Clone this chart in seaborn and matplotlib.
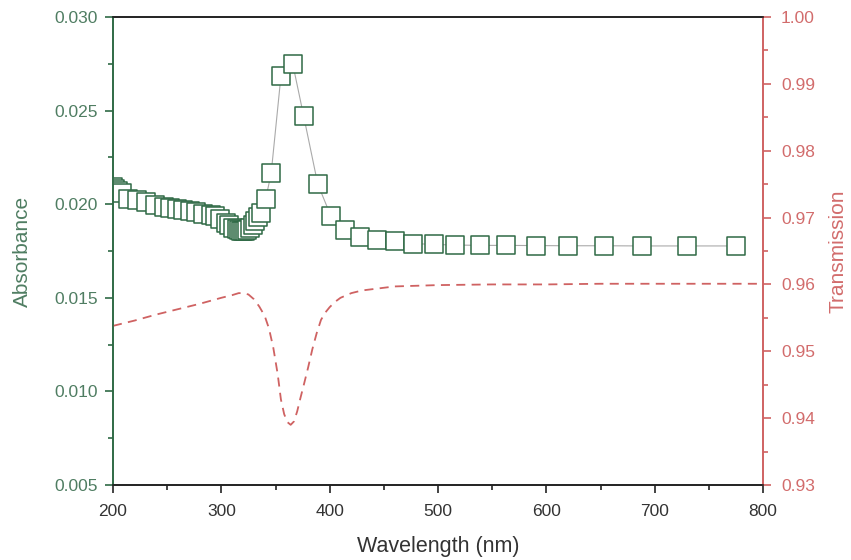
import matplotlib
matplotlib.use("Agg")
import matplotlib.pyplot as plt
from matplotlib.ticker import MultipleLocator, FormatStrFormatter
import seaborn as sns
import pandas as pd

# Absorbance spectrum (sampled points)
wl_abs = [200, 202, 205, 208, 214, 222, 230, 239, 247, 253, 259, 265, 271,
          277, 283, 290, 294, 299, 304, 307, 311, 314, 316, 318, 320, 322,
          324, 326.5, 329, 331.5, 333.5, 336.5, 341, 346, 355, 366, 376,
          389, 401, 414, 428, 444, 460, 477, 496, 516, 539, 563, 590, 620,
          653, 688, 730, 775]
absorbance = [0.0209, 0.0208, 0.0207, 0.0206, 0.0203, 0.0202, 0.0201,
              0.01995, 0.01986, 0.01981, 0.01973, 0.01968, 0.01963, 0.01956,
              0.0195, 0.01941, 0.01936, 0.0192, 0.0190, 0.0189, 0.01875,
              0.01865, 0.0186, 0.01856, 0.01855, 0.01856, 0.0186, 0.01872,
              0.0189, 0.0191, 0.01932, 0.01953, 0.0203, 0.02165, 0.02683,
              0.02747, 0.02471, 0.02108, 0.01938, 0.01862, 0.01826, 0.0181,
              0.01803, 0.0179, 0.01785, 0.01782, 0.0178, 0.0178, 0.01779,
              0.01778, 0.01778, 0.01777, 0.01777, 0.01777]

# Transmission spectrum
wl_trans = [200, 220, 240, 260, 280, 300, 310, 316, 320, 325, 330, 335, 340,
            344, 348, 352, 355, 358, 361, 364, 367, 370, 373, 376, 380, 384,
            388, 392, 396, 400, 405, 410, 420, 430, 445, 460, 480, 500, 550,
            600, 650, 700, 750, 800]
transmission = [0.9538, 0.9546, 0.9555, 0.9563, 0.9571, 0.9580, 0.9584,
                0.9587, 0.9587, 0.9585, 0.9578, 0.9567, 0.9553, 0.9534,
                0.9505, 0.9466, 0.9428, 0.9406, 0.9394, 0.9390, 0.9395,
                0.9410, 0.9430, 0.9449, 0.9475, 0.9503, 0.9527, 0.9547,
                0.9558, 0.9566, 0.9574, 0.9580, 0.9587, 0.9591, 0.9594,
                0.9597, 0.9598, 0.9599, 0.9600, 0.9600, 0.9601, 0.9601,
                0.9601, 0.9601]

x_ticks = [200, 300, 400, 500, 600, 700, 800]

GREEN = "#2f6a45"
GREEN_TXT = "#4f7d62"
RED = "#cf6262"
RED_TXT = "#d26c6c"
GRAY_TXT = "#333333"

sns.set_style("ticks")
plt.rcParams["font.family"] = ["Liberation Sans", "DejaVu Sans"]

df_abs = pd.DataFrame({"wl": wl_abs, "A": absorbance})
df_t = pd.DataFrame({"wl": wl_trans, "T": transmission})

fig = plt.figure(figsize=(8.51, 5.60), dpi=100)
ax = fig.add_axes([113 / 851, 1 - 485 / 560, 650 / 851, 468 / 560])
ax2 = ax.twinx()

# Absorbance: thin grey connector under white-filled square markers
sns.lineplot(data=df_abs, x="wl", y="A", ax=ax, sort=False, color="#aaaaaa",
             linewidth=0.8, zorder=2)
sns.scatterplot(data=df_abs, x="wl", y="A", ax=ax, marker="s", s=150,
                facecolor="white", edgecolor=GREEN, linewidth=1.1,
                zorder=3, clip_on=True)

# Transmission: dashed red curve on the right axis
sns.lineplot(data=df_t, x="wl", y="T", ax=ax2, color=RED, linewidth=1.3,
             dashes=False, linestyle=(0, (5, 3.5)), zorder=2)

ax.set_xlim(200, 800)
ax.set_ylim(0.005, 0.030)
ax2.set_ylim(0.93, 1.00)

ax.set_xticks(x_ticks)
ax.xaxis.set_minor_locator(MultipleLocator(50))
ax.yaxis.set_major_locator(MultipleLocator(0.005))
ax.yaxis.set_minor_locator(MultipleLocator(0.0025))
ax.yaxis.set_major_formatter(FormatStrFormatter("%.3f"))
ax2.yaxis.set_major_locator(MultipleLocator(0.01))
ax2.yaxis.set_minor_locator(MultipleLocator(0.005))
ax2.yaxis.set_major_formatter(FormatStrFormatter("%.2f"))

ax.set_xlabel("Wavelength (nm)", fontsize=15.5, color=GRAY_TXT, labelpad=12)
ax.set_ylabel("Absorbance", fontsize=15, color=GREEN_TXT, labelpad=16)
ax2.set_ylabel("Transmission", fontsize=15, color=RED_TXT, labelpad=10)

for a in (ax, ax2):
    for sp in a.spines.values():
        sp.set_linewidth(1.2)
    a.spines["top"].set_visible(True)
    a.spines["top"].set_color("#222222")
    a.spines["bottom"].set_color("#222222")
    a.spines["left"].set_color(GREEN)
    a.spines["right"].set_color(RED)

ax.tick_params(axis="x", which="major", direction="out", length=6, width=1.2,
               color="#222222", labelcolor=GRAY_TXT, labelsize=12.5, pad=8,
               top=False)
ax.tick_params(axis="x", which="minor", direction="out", length=3.5,
               width=1.2, color="#222222", top=False)
ax.tick_params(axis="y", which="major", direction="out", length=6, width=1.2,
               color=GREEN, labelcolor=GREEN_TXT, labelsize=12.5, pad=5)
ax.tick_params(axis="y", which="minor", direction="out", length=3.5,
               width=1.2, color=GREEN)
ax2.tick_params(axis="y", which="major", direction="out", length=6, width=1.2,
                color=RED, labelcolor=RED_TXT, labelsize=12.5, pad=7)
ax2.tick_params(axis="y", which="minor", direction="out", length=3.5,
                width=1.2, color=RED)

fig.savefig("out.png", dpi=100, facecolor="white")
